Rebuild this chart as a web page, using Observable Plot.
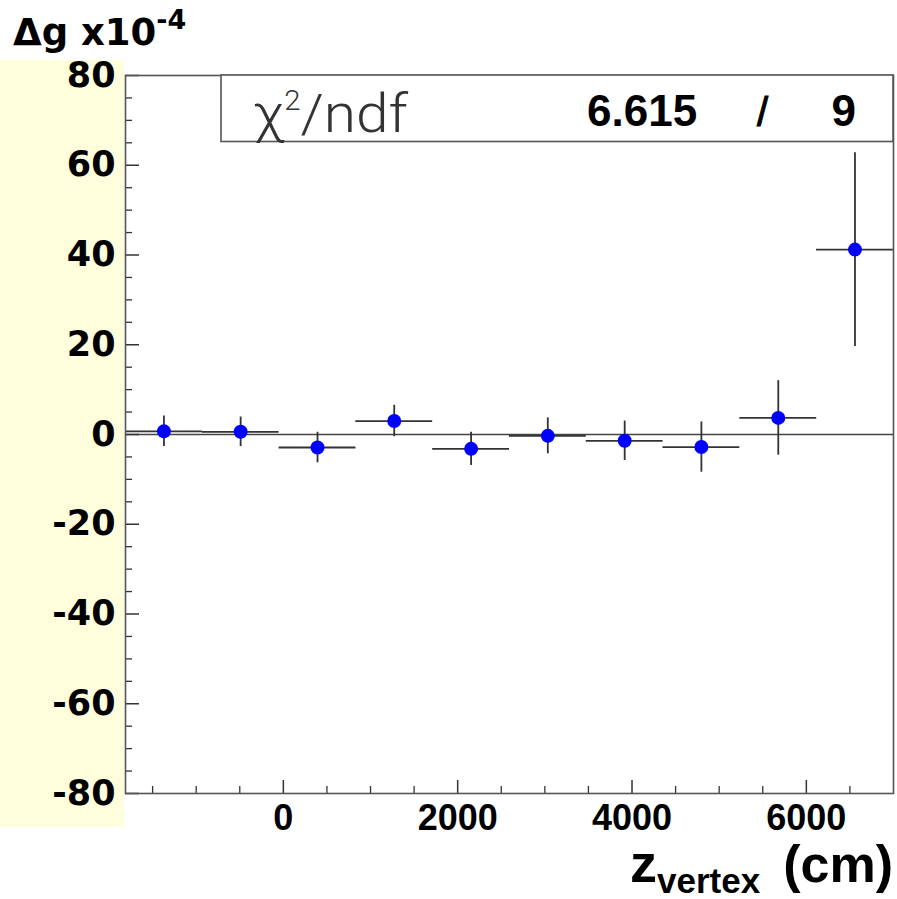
<!DOCTYPE html>
<html><head><meta charset="utf-8">
<script src="https://cdn.jsdelivr.net/npm/d3@7"></script>
<script src="https://cdn.jsdelivr.net/npm/@observablehq/plot@0.6"></script>
<style>
html,body{margin:0;padding:0;background:#fff;}
#wrap{position:relative;width:897px;height:899px;overflow:hidden;background:#fff;}
#bg{position:absolute;left:0;top:60px;width:124px;height:767px;background:#fffedc;}
#chart{position:absolute;left:0;top:0;}
#over{position:absolute;left:0;top:0;pointer-events:none;}
</style></head><body>
<div id="wrap"><div id="bg"></div><div id="chart"></div><svg id="over" width="897" height="899"></svg></div>
<script>
// ---- data ----
const zCenter = [-1370, -490, 392, 1272, 2154, 3034, 3916, 4796, 5678, 6558];
const zHalfWidth = [441, 441, 441, 441, 441, 441, 441, 441, 441, 441];
const dg = [0.7, 0.6, -2.9, 3.0, -3.2, -0.3, -1.4, -2.8, 3.7, 41.2];
const dgErr = [3.4, 3.3, 3.4, 3.5, 3.7, 4.0, 4.4, 5.6, 8.3, 21.6];

const xDomain = [-1811, 7000];
const yDomain = [-80, 80];
const xTickLabels = [0, 2000, 4000, 6000];
const xMinorTicks = [-1500, -1000, -500, 500, 1000, 1500, 2500, 3000, 3500, 4500, 5000, 5500, 6500];
const yTickLabels = [-80, -60, -40, -20, 0, 20, 40, 60, 80];
const yMinorTicks = [-75,-70,-65,-55,-50,-45,-35,-30,-25,-15,-10,-5,5,10,15,25,30,35,45,50,55,65,70,75];

const fitLabel = "ndf";
const chi2 = "6.615";
const ndf = "9";

const data = zCenter.map((z, i) => ({z, zh: zHalfWidth[i], g: dg[i], e: dgErr[i]}));

const W = 897, H = 899, mL = 125, mR = 4, mT = 75, mB = 106;
const iw = W - mL - mR, ih = H - mT - mB;
const ink = "#333";

const plot = Plot.plot({
  width: W, height: H,
  marginLeft: mL, marginRight: mR, marginTop: mT, marginBottom: mB,
  style: {background: "transparent", overflow: "visible"},
  x: {domain: xDomain, label: null},
  y: {domain: yDomain, label: null},
  marks: [
    Plot.ruleY([0], {stroke: "#444", strokeWidth: 1.5}),
    Plot.tickY(yMinorTicks, {y: d => d, stroke: ink, strokeWidth: 1.3, insetRight: iw - 7}),
    Plot.tickY(yTickLabels, {y: d => d, stroke: ink, strokeWidth: 1.5, insetRight: iw - 14}),
    Plot.tickX(xMinorTicks, {x: d => d, stroke: ink, strokeWidth: 1.3, insetTop: ih - 7}),
    Plot.tickX(xTickLabels, {x: d => d, stroke: ink, strokeWidth: 1.5, insetTop: ih - 13}),
    Plot.axisY(yTickLabels, {tickSize: 0, tickPadding: 10, fontSize: 35, fontWeight: "bold",
      fontFamily: "DejaVu Sans", fill: "#000", tickFormat: d => String(d), label: null}),
    Plot.axisX(xTickLabels, {tickSize: 0, tickPadding: 11, fontSize: 36, fontWeight: "bold",
      fontFamily: "Liberation Sans", fill: "#000", tickFormat: d => String(d), label: null}),
    Plot.ruleY(data, {y: "g", x1: d => d.z - d.zh, x2: d => d.z + d.zh, stroke: ink, strokeWidth: 1.8}),
    Plot.ruleX(data, {x: "z", y1: d => d.g - d.e, y2: d => d.g + d.e, stroke: ink, strokeWidth: 1.8}),
    Plot.dot(data, {x: "z", y: "g", r: 7, fill: "#0000ff", stroke: "none"}),
    Plot.frame({stroke: "#555", strokeWidth: 1.6})
  ]
});
document.getElementById("chart").appendChild(plot);

// ---- annotations: title, stat box, axis title ----
const over = d3.select("#over");
const t = over.append("text").attr("x", 13).attr("y", 45)
  .attr("font-family", "DejaVu Sans").attr("font-weight", "bold").attr("font-size", 37).attr("fill", "#000");
t.append("tspan").text("Δg x10");
t.append("tspan").attr("dy", -16).attr("font-size", 27).text("-4");

over.append("rect").attr("x", 221).attr("y", 75).attr("width", 672).attr("height", 66.5)
  .attr("fill", "#fff").attr("stroke", "#555").attr("stroke-width", 1.6);
const c = over.append("text").attr("x", 253).attr("y", 132)
  .attr("font-family", "Roboto").attr("font-weight", 300).attr("font-size", 54).attr("fill", "#333")
  .attr("textLength", 155).attr("lengthAdjust", "spacingAndGlyphs");
c.append("tspan").text("χ");
c.append("tspan").attr("dy", -22).attr("font-size", 27).text("2");
c.append("tspan").attr("dy", 22).text("/" + fitLabel);
over.append("text").attr("x", 587).attr("y", 126).attr("font-family", "Liberation Sans").attr("font-weight", "bold")
  .attr("font-size", 44).attr("fill", "#000").text(chi2);
over.append("text").attr("x", 757).attr("y", 126).attr("font-family", "Liberation Sans").attr("font-weight", "normal")
  .attr("font-size", 40).attr("fill", "#000").attr("stroke", "#000").attr("stroke-width", 1).text("/");
over.append("text").attr("x", 856).attr("y", 126).attr("text-anchor", "end").attr("font-family", "Liberation Sans").attr("font-weight", "bold")
  .attr("font-size", 44).attr("fill", "#000").text(ndf);

const xt = over.append("text").attr("x", 630).attr("y", 882)
  .attr("font-family", "Liberation Sans").attr("font-weight", "bold").attr("font-size", 54).attr("fill", "#000");
xt.append("tspan").text("z");
xt.append("tspan").attr("dy", 11).attr("font-size", 35).text("vertex");
over.append("text").attr("x", 893).attr("y", 882).attr("text-anchor", "end")
  .attr("font-family", "Liberation Sans").attr("font-weight", "bold").attr("font-size", 52).attr("fill", "#000").text("(cm)");
</script>
</body></html>
